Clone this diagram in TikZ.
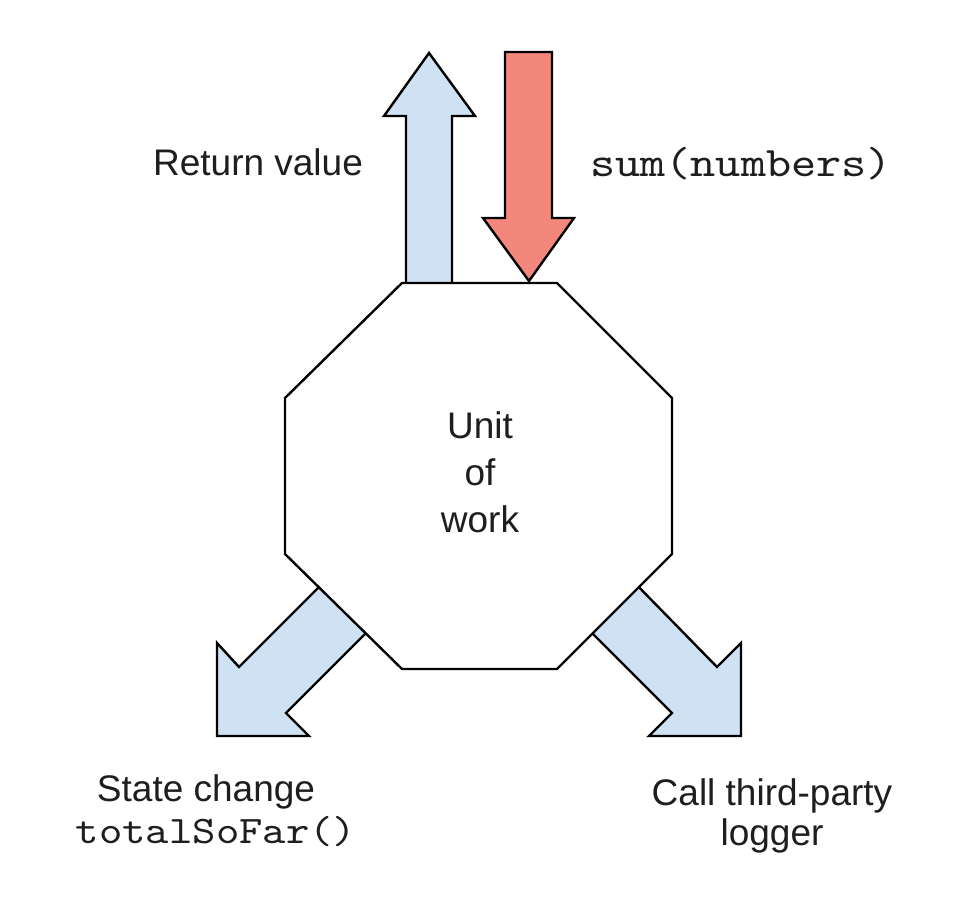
\documentclass[tikz,border=0pt]{standalone}
\usepackage{fontspec}
\setmainfont{Liberation Sans}
\setmonofont{lmmono10-regular.otf}[FakeStretch=1.14]
\definecolor{lblue}{HTML}{CFE2F3}
\definecolor{lred}{HTML}{F4877B}
\definecolor{ink}{HTML}{1E1E1E}
\begin{document}
\begin{tikzpicture}[x=1pt,y=-1pt,
  blockshape/.style={draw=black,line width=2.4pt,line join=miter},
  lbl/.style={text=ink,font=\fontsize{37}{47}\selectfont,align=center,inner sep=0pt,anchor=base},
  code/.style={text=ink,inner sep=0pt,anchor=base}]
\useasboundingbox (0,0) rectangle (961,917);
\fill[white] (0,0) rectangle (961,917);
% up arrow (return value)
\draw[blockshape,fill=lblue] (406,290) -- (406,116) -- (384,116) -- (429,53) -- (475,116) -- (452,116) -- (452,290) -- cycle;
% down arrow (input)
\draw[blockshape,fill=lred] (505,52) -- (552,52) -- (552,218) -- (574,218) -- (529,281) -- (483,218) -- (505,218) -- cycle;
% bottom-left arrow
\draw[blockshape,fill=lblue] (330,576) -- (239,667) -- (217,643) -- (217,736) -- (309,736) -- (286,713) -- (377,622) -- cycle;
% bottom-right arrow
\draw[blockshape,fill=lblue] (628,576) -- (717,667) -- (741,643) -- (741,736) -- (649,736) -- (672,713) -- (581,622) -- cycle;
% octagon
\draw[blockshape,fill=white] (402,283) -- (557,283) -- (672,398) -- (672,554) -- (557,669) -- (402,669) -- (285,554) -- (285,398) -- cycle;
% texts
\node[lbl] (unit) at (480,532) {Unit\\of\\work};
\node[lbl] (ret) at (258,176) {Return value};
\node[code,font=\fontsize{42}{47}\ttfamily\selectfont] (sum) at (741,177) {sum(numbers)};
\node[lbl] (state) at (206,801) {State change};
\node[code,font=\fontsize{39}{47}\ttfamily\selectfont] (total) at (216,843) {totalSoFar()};
\node[lbl,font=\fontsize{37}{40}\selectfont] (call) at (772,845) {Call third-party\\logger};
\end{tikzpicture}
\end{document}
